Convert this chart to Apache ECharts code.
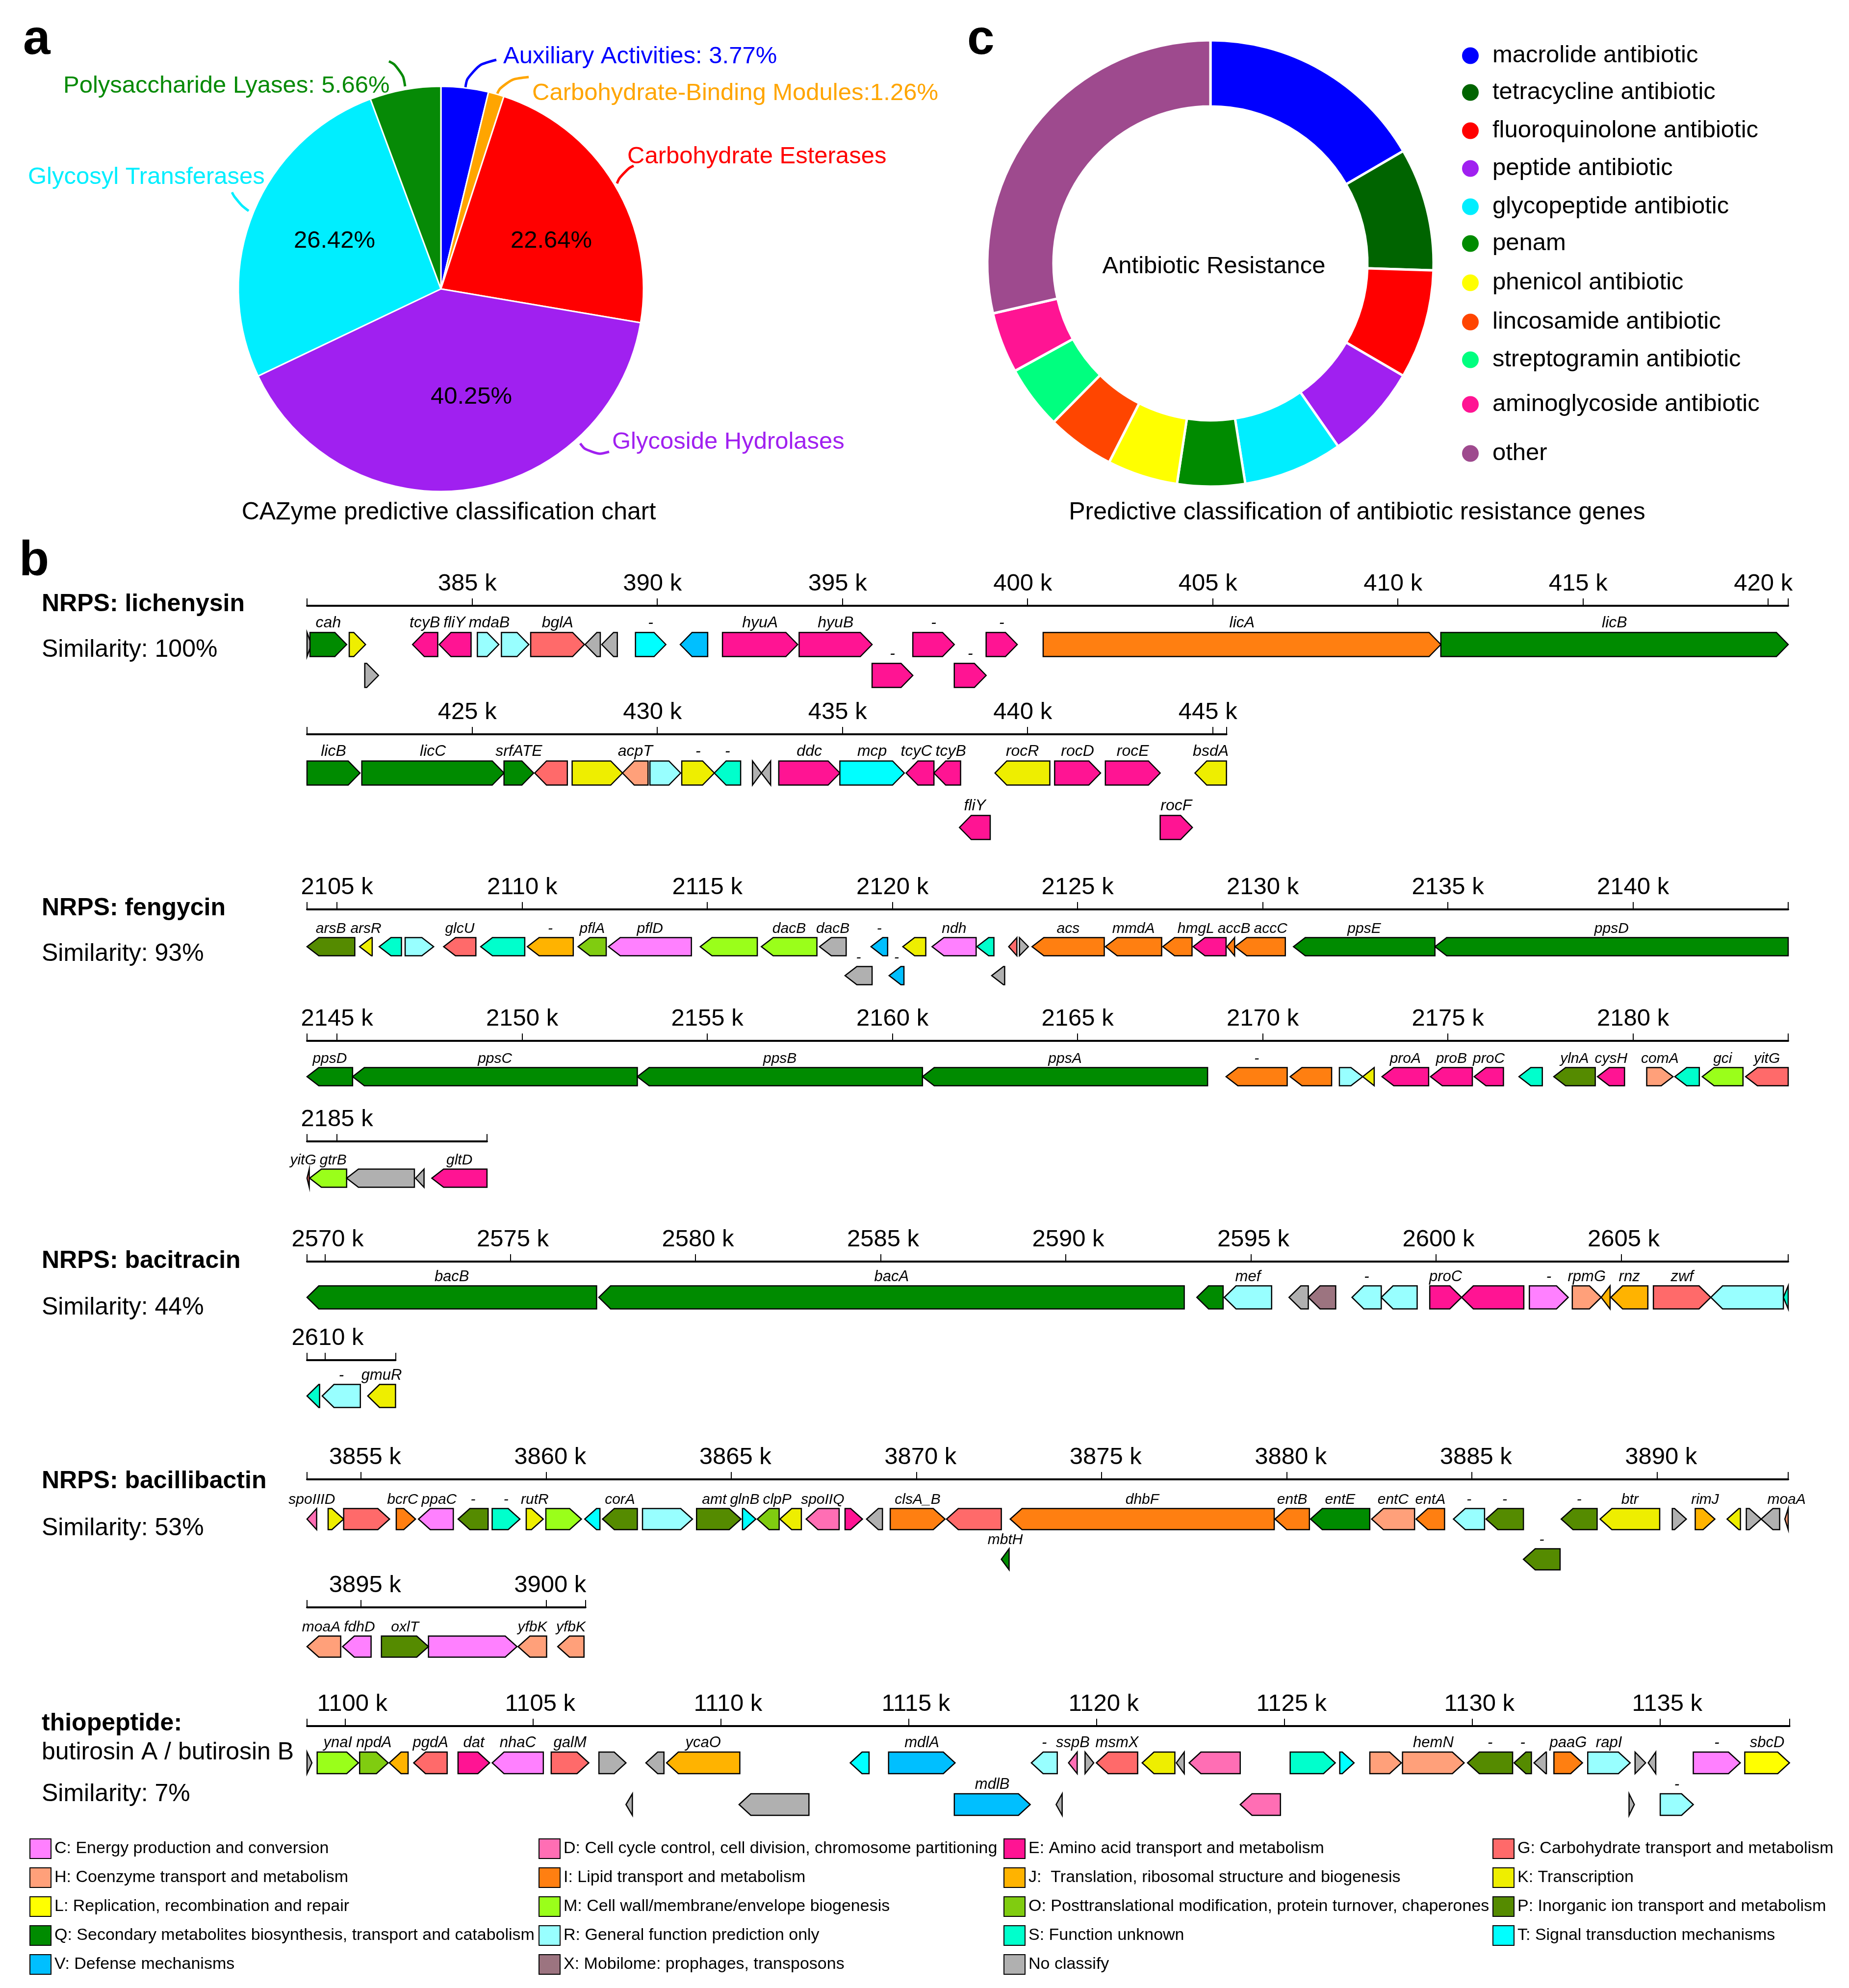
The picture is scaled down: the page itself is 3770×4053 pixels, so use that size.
<!DOCTYPE html>
<html><head><meta charset="utf-8">
<script src="https://cdn.jsdelivr.net/npm/echarts@6/dist/echarts.min.js"></script>
<style>html,body{margin:0;padding:0;background:#fff}#c{width:3770px;height:4053px}</style>
</head><body><div id="c"></div>
<script>
const FONT = '"Liberation Sans", Arial, sans-serif';

// ---------- Panel a : CAZyme ----------
const cazyNames = ['Auxiliary Activities','Carbohydrate-Binding Modules','Carbohydrate Esterases','Glycoside Hydrolases','Glycosyl Transferases','Polysaccharide Lyases'];
const cazyCounts = [6, 2, 36, 64, 42, 9];
const cazyColors = ['#0000FF','#FFA500','#FF0000','#A020F0','#00EEFF','#068A06'];
const cazyShowPctInside = [false, false, true, true, true, false];
const cazyLabelSep = [': ', ':', null, null, null, ': '];

// ---------- Panel c : antibiotic resistance ----------
const argNames = ['macrolide antibiotic','tetracycline antibiotic','fluoroquinolone antibiotic','peptide antibiotic','glycopeptide antibiotic','penam','phenicol antibiotic','lincosamide antibiotic','streptogramin antibiotic','aminoglycoside antibiotic','other'];
const argValues = [16.6, 8.9, 7.9, 6.9, 7.2, 4.9, 5.1, 4.9, 4.6, 4.4, 28.6];
const argColors = ['#0000FF','#006400','#FF0000','#A020F0','#00EEFF','#008B00','#FFFF00','#FF4500','#00FF7F','#FF1493','#9E4A8E'];

// ---------- COG categories ----------
const cogKeys = ['C','D','E','G','H','I','J','K','L','M','O','P','Q','R','S','T','V','X','N'];
const cogLabels = {
  C:'C: Energy production and conversion', D:'D: Cell cycle control, cell division, chromosome partitioning',
  E:'E: Amino acid transport and metabolism', G:'G: Carbohydrate transport and metabolism',
  H:'H: Coenzyme transport and metabolism', I:'I: Lipid transport and metabolism',
  J:'J:  Translation, ribosomal structure and biogenesis', K:'K: Transcription',
  L:'L: Replication, recombination and repair', M:'M: Cell wall/membrane/envelope biogenesis',
  O:'O: Posttranslational modification, protein turnover, chaperones', P:'P: Inorganic ion transport and metabolism',
  Q:'Q: Secondary metabolites biosynthesis, transport and catabolism', R:'R: General function prediction only',
  S:'S: Function unknown', T:'T: Signal transduction mechanisms', V:'V: Defense mechanisms',
  X:'X: Mobilome: prophages, transposons', N:'No classify'
};
const cogColors = {C:'#FF80FF',D:'#FF6EB4',E:'#FF1493',G:'#FF6A6A',H:'#FFA07A',I:'#FF7F11',J:'#FFB300',K:'#EEEE00',L:'#FFFF00',M:'#9AFF1A',O:'#80CC10',P:'#558B00',Q:'#008B00',R:'#98FFFF',S:'#00FFCC',T:'#00FFFF',V:'#00BFFF',X:'#9C7480',N:'#B0B0B0'};
const cogLegendColumns = [['C','H','L','Q','V'],['D','I','M','R','X'],['E','J','O','S','N'],['G','K','P','T']];

// ---------- Gene clusters: [start kb, end kb, strand, track, COG, label] ----------
const lichenysinRows = [[380.54, 420.54],[420.54, 445.37]];
const lichenysinGenes = [
 [380.54,380.66,1,0,'N',''],[380.62,381.61,1,0,'Q','cah'],[381.68,382.12,1,0,'K',''],[382.10,382.47,1,1,'N',''],
 [383.39,384.07,-1,0,'E','tcyB'],[384.11,384.97,-1,0,'E','fliY'],[385.14,385.72,1,0,'R','mdaB'],[385.79,386.53,1,0,'R',''],
 [386.58,388.03,1,0,'G','bglA'],[388.05,388.46,-1,0,'N',''],[388.50,388.92,-1,0,'N',''],[389.41,390.23,1,0,'T','-'],
 [390.62,391.36,-1,0,'V',''],[391.76,393.79,1,0,'E','hyuA'],[393.83,395.80,1,0,'E','hyuB'],[395.80,396.90,1,1,'E','-'],
 [396.90,398.02,1,0,'E','-'],[398.02,398.88,1,1,'E','-'],[398.88,399.72,1,0,'E','-'],[400.42,411.16,1,0,'I','licA'],
 [411.16,421.97,1,0,'Q','licB'],[422.02,425.86,1,0,'Q','licC'],[425.86,426.66,1,0,'Q','srfATE'],[426.69,427.57,-1,0,'G',''],
 [427.70,429.06,1,0,'K',''],[429.06,429.75,-1,0,'H','acpT'],[429.80,430.63,1,0,'R',''],[430.66,431.54,1,0,'K','-'],
 [431.54,432.25,-1,0,'S','-'],[432.57,432.81,1,0,'N',''],[432.81,433.06,-1,0,'N',''],[433.28,434.93,1,0,'E','ddc'],
 [434.93,436.67,1,0,'T','mcp'],[436.72,437.47,-1,0,'E','tcyC'],[437.47,438.19,-1,0,'E','tcyB'],[438.16,438.99,-1,1,'E','fliY'],
 [439.12,440.60,-1,0,'K','rocR'],[440.73,441.97,1,0,'E','rocD'],[442.10,443.58,1,0,'E','rocE'],[443.58,444.45,1,1,'E','rocF'],
 [444.52,445.37,-1,0,'K','bsdA']
];
const fengycinRows = [[2104.19, 2144.19],[2144.19, 2184.19],[2184.19, 2189.05]];
const fengycinGenes = [
 [2104.19,2105.48,-1,0,'P','arsB'],[2105.61,2105.95,-1,0,'K','arsR'],[2106.14,2106.74,-1,0,'S',''],[2106.84,2107.61,1,0,'R',''],
 [2107.88,2108.75,-1,0,'G','glcU'],[2108.88,2110.07,-1,0,'S',''],[2110.14,2111.38,-1,0,'J','-'],[2111.51,2112.27,-1,0,'O','pflA'],
 [2112.33,2114.57,-1,0,'C','pflD'],[2114.81,2116.35,-1,0,'M',''],[2116.46,2117.96,-1,0,'M','dacB'],[2118.03,2118.75,-1,0,'N','dacB'],
 [2118.72,2119.45,-1,1,'N','-'],[2119.42,2119.87,-1,0,'V','-'],[2119.91,2120.31,-1,1,'V','-'],[2120.28,2120.90,-1,0,'K',''],
 [2121.07,2122.26,-1,0,'C','ndh'],[2122.28,2122.74,-1,0,'S',''],[2122.68,2123.03,-1,1,'N',''],[2123.14,2123.36,-1,0,'G',''],
 [2123.43,2123.67,1,0,'N',''],[2123.77,2125.72,-1,0,'I','acs'],[2125.75,2127.27,-1,0,'I','mmdA'],[2127.30,2128.09,-1,0,'I',''],
 [2128.12,2129.01,-1,0,'E','hmgL'],[2129.03,2129.24,-1,0,'I','accB'],[2129.25,2130.61,-1,0,'I','accC'],[2130.83,2134.65,-1,0,'Q','ppsE'],
 [2134.65,2145.42,-1,0,'Q','ppsD'],[2145.42,2153.11,-1,0,'Q','ppsC'],[2153.11,2160.81,-1,0,'Q','ppsB'],[2160.81,2168.51,-1,0,'Q','ppsA'],
 [2169.01,2170.66,-1,0,'I','-'],[2170.74,2171.86,-1,0,'I',''],[2172.07,2172.70,1,0,'R',''],[2172.70,2173.01,-1,0,'K',''],
 [2173.22,2174.48,-1,0,'E','proA'],[2174.53,2175.66,-1,0,'E','proB'],[2175.71,2176.50,-1,0,'E','proC'],[2176.92,2177.55,-1,0,'S',''],
 [2177.86,2178.98,-1,0,'P','ylnA'],[2179.04,2179.77,-1,0,'E','cysH'],[2180.37,2181.08,1,0,'H','comA'],[2181.13,2181.79,-1,0,'S',''],
 [2181.87,2182.97,-1,0,'M','gci'],[2183.04,2184.25,-1,0,'G','yitG'],[2184.26,2185.26,-1,0,'M','gtrB'],[2185.26,2187.09,-1,0,'N',''],
 [2187.12,2187.35,-1,0,'N',''],[2187.56,2189.05,-1,0,'E','gltD']
];
const bacitracinRows = [[2569.51, 2609.51],[2609.51, 2611.90]];
const bacitracinGenes = [
 [2569.51,2577.33,-1,0,'Q','bacB'],[2577.39,2593.20,-1,0,'Q','bacA'],[2593.54,2594.25,-1,0,'Q',''],[2594.28,2595.56,-1,0,'R','mef'],
 [2596.03,2596.55,-1,0,'N',''],[2596.55,2597.29,-1,0,'X',''],[2597.73,2598.52,-1,0,'R','-'],[2598.52,2599.49,-1,0,'R',''],
 [2599.83,2600.69,1,0,'E','proC'],[2600.69,2602.37,-1,0,'E',''],[2602.52,2603.57,1,0,'C','-'],[2603.68,2604.46,1,0,'H','rpmG'],
 [2604.46,2604.70,-1,0,'J',''],[2604.72,2605.72,-1,0,'J','rnz'],[2605.87,2607.42,1,0,'G','zwf'],[2607.42,2609.38,-1,0,'R',''],
 [2609.38,2609.85,-1,0,'S',''],[2609.92,2610.95,-1,0,'R','-'],[2611.15,2611.90,-1,0,'K','gmuR']
];
const bacillibactinRows = [[3853.54, 3893.54],[3893.54, 3901.06]];
const bacillibactinGenes = [
 [3853.50,3853.80,-1,0,'D','spoIIID'],[3854.11,3854.53,1,0,'K',''],[3854.53,3855.77,1,0,'G',''],[3855.95,3856.47,1,0,'I','bcrC'],
 [3856.55,3857.49,-1,0,'C','ppaC'],[3857.62,3858.43,-1,0,'P','-'],[3858.54,3859.29,1,0,'S','-'],[3859.46,3859.92,1,0,'K','rutR'],
 [3859.99,3860.95,1,0,'M',''],[3861.04,3861.45,-1,0,'T',''],[3861.52,3862.46,-1,0,'P','corA'],[3862.60,3863.95,1,0,'R',''],
 [3864.06,3865.26,1,0,'P','amt'],[3865.30,3865.66,1,0,'T','glnB'],[3865.70,3866.29,-1,0,'O','clpP'],[3866.31,3866.89,-1,0,'K',''],
 [3867.02,3867.91,-1,0,'D','spoIIQ'],[3868.07,3868.54,1,0,'E',''],[3868.65,3869.08,-1,0,'N',''],[3869.29,3870.77,1,0,'I','clsA_B'],
 [3870.81,3872.29,-1,0,'G',''],[3872.29,3872.50,-1,1,'Q','mbtH'],[3872.53,3879.66,-1,0,'I','dhbF'],[3879.68,3880.61,-1,0,'I','entB'],
 [3880.64,3882.24,-1,0,'Q','entE'],[3882.29,3883.45,-1,0,'H','entC'],[3883.49,3884.26,-1,0,'I','entA'],[3884.50,3885.34,-1,0,'R','-'],
 [3885.38,3886.39,-1,0,'P','-'],[3886.39,3887.38,-1,1,'P','-'],[3887.41,3888.38,-1,0,'P','-'],[3888.46,3890.07,-1,0,'K','btr'],
 [3890.41,3890.79,1,0,'N',''],[3891.03,3891.56,1,0,'J','rimJ'],[3891.89,3892.25,-1,0,'K',''],[3892.41,3892.81,1,0,'N',''],
 [3892.81,3893.31,-1,0,'N',''],[3893.45,3894.45,-1,0,'H','moaA'],[3894.50,3895.27,-1,0,'C','fdhD'],[3895.55,3896.82,1,0,'P','oxlT'],
 [3896.82,3899.21,1,0,'C',''],[3899.24,3900.01,-1,0,'H','yfbK'],[3900.31,3901.02,-1,0,'H','yfbK']
];
const thiopeptideRows = [[1098.99, 1138.45]];
const thiopeptideGenes = [
 [1098.99,1099.12,1,0,'N',''],[1099.26,1100.36,1,0,'M','ynaI'],[1100.39,1101.15,1,0,'O','npdA'],[1101.18,1101.68,-1,0,'J',''],
 [1101.83,1102.72,-1,0,'G','pgdA'],[1103.01,1103.85,1,0,'E','dat'],[1103.92,1105.28,-1,0,'C','nhaC'],[1105.49,1106.49,1,0,'G','galM'],
 [1106.76,1107.48,1,0,'N',''],[1107.48,1107.65,-1,1,'N',''],[1108.01,1108.49,-1,0,'N',''],[1108.56,1110.51,-1,0,'J','ycaO'],
 [1110.49,1112.35,-1,1,'N',''],[1113.45,1113.95,-1,0,'T',''],[1114.47,1116.24,1,0,'V','mdlA'],[1116.22,1118.24,1,1,'V','mdlB'],
 [1118.27,1118.96,-1,0,'R','-'],[1118.93,1119.09,-1,1,'N',''],[1119.26,1119.49,-1,0,'D','sspB'],[1119.70,1119.93,1,0,'N',''],
 [1120.00,1121.10,-1,0,'G','msmX'],[1121.22,1122.09,-1,0,'K',''],[1122.13,1122.34,-1,0,'N',''],[1122.47,1123.83,-1,0,'D',''],
 [1123.83,1124.90,-1,1,'D',''],[1125.16,1126.36,1,0,'S',''],[1126.48,1126.86,1,0,'T',''],[1127.28,1128.12,1,0,'H',''],
 [1128.15,1129.79,1,0,'H','hemN'],[1129.88,1131.08,-1,0,'P','-'],[1131.12,1131.58,-1,0,'P','-'],[1131.65,1131.98,-1,0,'N',''],
 [1132.18,1132.94,1,0,'I','paaG'],[1133.08,1134.21,1,0,'R','rapI'],[1134.18,1134.32,1,1,'N',''],[1134.34,1134.62,1,0,'N',''],
 [1134.69,1134.89,-1,0,'N',''],[1135.01,1135.89,1,1,'R','-'],[1135.89,1137.14,1,0,'C','-'],[1137.26,1138.45,1,0,'L','sbcD']
];
const clusterTitles = [['NRPS: lichenysin'],['NRPS: fengycin'],['NRPS: bacitracin'],['NRPS: bacillibactin'],['thiopeptide:','butirosin A / butirosin B']];
const clusterSimilarity = ['Similarity: 100%','Similarity: 93%','Similarity: 44%','Similarity: 53%','Similarity: 7%'];

// ---------- layout (pixels) ----------
const clusterData = [
 {genes: lichenysinGenes, rows: lichenysinRows},
 {genes: fengycinGenes, rows: fengycinRows},
 {genes: bacitracinGenes, rows: bacitracinRows},
 {genes: bacillibactinGenes, rows: bacillibactinRows},
 {genes: thiopeptideGenes, rows: thiopeptideRows}
];
const clusterLayout = [
 {arrowH:49, labelSize:32, pxPerKb:75.5, tickShift:-10, rows:[{axisY:1235,lanes:[79,142]},{axisY:1497,lanes:[79,190]}],
  text:[{y:1230,bold:true},{y:1323}]},
 {arrowH:37, labelSize:30, pxPerKb:75.5, tickShift:0, rows:[{axisY:1854,lanes:[76,135]},{axisY:2122,lanes:[73,135]},{axisY:2327,lanes:[75,135]}],
  text:[{y:1850,bold:true},{y:1943}]},
 {arrowH:47, labelSize:31, pxPerKb:75.5, tickShift:5, rows:[{axisY:2572,lanes:[73,140]},{axisY:2773,lanes:[73,140]}],
  text:[{y:2569,bold:true},{y:2664}]},
 {arrowH:43, labelSize:30, pxPerKb:75.5, tickShift:8, rows:[{axisY:3016,lanes:[81,163]},{axisY:3277,lanes:[80,163]}],
  text:[{y:3018,bold:true},{y:3114}]},
 {arrowH:44, labelSize:31, pxPerKb:76.6, tickShift:15, rows:[{axisY:3519,lanes:[75,160]}],
  text:[{y:3512,bold:true},{y:3571},{y:3656}]}
];
const TRACK_LEFT = 626, HEAD = 24, LABEL_GAP = 7;

const measureCtx = document.createElement('canvas').getContext('2d');
function textWidth(t, size) { measureCtx.font = 'italic ' + size + 'px "Liberation Sans", Arial, sans-serif'; return measureCtx.measureText(t).width; }

// spread overlapping gene labels apart (positions in kb)
function spreadLabels(items, pxPerKb) {
  items.sort((a, b) => a.c - b.c);
  for (let it = 0; it < 300; it++) {
    let moved = false;
    for (let i = 1; i < items.length; i++) {
      const a = items[i - 1], b = items[i];
      const ov = (a.x + a.w / 2 + LABEL_GAP / pxPerKb) - (b.x - b.w / 2);
      if (ov > 1e-6) { a.x -= ov / 2; b.x += ov / 2; moved = true; }
    }
    if (!moved) break;
  }
}

const grids = [], xAxes = [], yAxes = [], series = [];
const usedCogs = {};

function makeRender(genes, L, R, color) {
  return function (params, api) {
    const s = api.value(0), e = api.value(1), strand = api.value(2), track = api.value(3), idx = api.value(4), lx = api.value(5);
    const p1 = api.coord([s, R.lanes[track]]);
    const p2 = api.coord([e, R.lanes[track]]);
    const x1 = p1[0], x2 = p2[0], yc = p1[1], h = L.arrowH / 2;
    const head = Math.min(HEAD, x2 - x1);
    const pts = strand > 0
      ? [[x1, yc - h], [x2 - head, yc - h], [x2, yc], [x2 - head, yc + h], [x1, yc + h]]
      : [[x2, yc - h], [x1 + head, yc - h], [x1, yc], [x1 + head, yc + h], [x2, yc + h]];
    const children = [{type: 'polygon', shape: {points: pts}, style: {fill: color, stroke: '#000', lineWidth: 2.5, lineJoin: 'miter'}}];
    const name = genes[idx][5];
    if (name) children.push({type: 'text', x: api.coord([lx, 0])[0], y: yc - h - 3,
      style: {text: name, fill: '#000', fontSize: L.labelSize, fontStyle: 'italic', fontFamily: FONT, align: 'center', verticalAlign: 'bottom'}});
    return {type: 'group', children};
  };
}

let gi = 0;
clusterData.forEach((cl, ci) => {
  const L = clusterLayout[ci];
  cl.rows.forEach((rg, ri) => {
    const R = L.rows[ri];
    const mn = rg[0], mx = rg[1];
    grids.push({left: TRACK_LEFT, top: R.axisY, width: (mx - mn) * L.pxPerKb, height: 250, containLabel: false, outerBoundsMode: 'none'});
    const labelVals = [];
    for (let v = Math.ceil(mn / 5) * 5; v <= mx + 1e-9; v += 5) labelVals.push(v);
    const tickVals = [mn].concat(labelVals.filter(v => v > mn && v < mx), [mx]);
    const sh = L.tickShift;
    xAxes.push({gridIndex: gi, type: 'value', min: mn, max: mx, position: 'top', splitLine: {show: false},
      axisLine: {show: true, onZero: false, lineStyle: {color: '#000', width: 4}},
      axisTick: {show: true, customValues: tickVals, length: 15, inside: false, lineStyle: {color: '#000', width: 2}},
      axisLabel: {show: true, customValues: labelVals, formatter: v => Math.round(v) + ' k', fontSize: 49, color: '#000', margin: 20, fontFamily: FONT,
        padding: sh < 0 ? [0, -2 * sh, 0, 0] : [0, 0, 0, 2 * sh]}});
    yAxes.push({gridIndex: gi, type: 'value', min: 0, max: 250, inverse: true, show: false});
    // clipped genes of this row
    const rowGenes = [];
    cl.genes.forEach((g, idx) => {
      if (g[1] <= mn || g[0] >= mx) return;
      const s = Math.max(g[0], mn), e = Math.min(g[1], mx);
      rowGenes.push({s, e, g, idx, c: (s + e) / 2, x: (s + e) / 2, w: g[5] ? textWidth(g[5], L.labelSize) / L.pxPerKb : 0});
    });
    [0, 1].forEach(t => spreadLabels(rowGenes.filter(r => r.g[3] === t && r.g[5]), L.pxPerKb));
    const byCog = {};
    rowGenes.forEach(r => {
      (byCog[r.g[4]] = byCog[r.g[4]] || []).push([r.s, r.e, r.g[2], r.g[3], r.idx, r.x]);
    });
    Object.keys(byCog).forEach(k => {
      usedCogs[k] = true;
      series.push({type: 'custom', name: cogLabels[k], xAxisIndex: gi, yAxisIndex: gi, clip: false, silent: true,
        itemStyle: {color: cogColors[k]}, encode: {x: [0, 1]}, renderItem: makeRender(cl.genes, L, R, cogColors[k]), data: byCog[k]});
    });
    gi++;
  });
});
cogKeys.forEach(k => {
  if (!usedCogs[k]) series.push({type: 'custom', name: cogLabels[k], xAxisIndex: 0, yAxisIndex: 0, itemStyle: {color: cogColors[k]},
    renderItem: () => ({type: 'group', children: []}), data: []});
});

// ---------- pie a ----------
const PIE_A = {center: [899, 589], r: 413};
const cazyInnerPos = [null, null, [1124, 491], [961, 809], [682, 491], null];
const cazyOuterPos = [[1026, 115], [1085, 190], [1279, 319], [1248, 901], [57, 361], [129, 175]];
const cazyHooks = [
  [[949, 178], [955, 137], [1012, 122]],
  [[1013, 193], [1026, 163], [1078, 157]],
  [[1258, 374], [1268, 349], [1292, 338]],
  [[1183, 904], [1203, 932], [1242, 921]],
  [[507, 430], [483, 412], [473, 392]],
  [[826, 176], [820, 138], [793, 125]]
];
series.push({type: 'pie', center: PIE_A.center, radius: [0, PIE_A.r], startAngle: 90, clockwise: true, silent: true,
  itemStyle: {borderColor: '#fff', borderWidth: 3},
  label: {show: true, position: 'inside', formatter: p => p.percent.toFixed(2) + '%', fontSize: 49, color: '#000', fontFamily: FONT},
  labelLine: {show: false},
  labelLayout: p => cazyInnerPos[p.dataIndex] ? {x: cazyInnerPos[p.dataIndex][0], y: cazyInnerPos[p.dataIndex][1], align: 'center', verticalAlign: 'middle'} : {},
  data: cazyNames.map((n, i) => ({name: n, value: cazyCounts[i], itemStyle: {color: cazyColors[i]}, label: {show: cazyShowPctInside[i]}}))
});
series.push({type: 'pie', center: PIE_A.center, radius: [0, PIE_A.r], startAngle: 90, clockwise: true, silent: true,
  itemStyle: {color: 'rgba(0,0,0,0)', borderWidth: 0},
  label: {show: true, position: 'outside', fontSize: 49, fontFamily: FONT, overflow: 'none', width: 1200, edgeDistance: 0,
    formatter: p => cazyLabelSep[p.dataIndex] === null ? p.name : p.name + cazyLabelSep[p.dataIndex] + p.percent.toFixed(2) + '%'},
  labelLine: {show: true, smooth: 0.6},
  labelLayout: p => ({x: cazyOuterPos[p.dataIndex][0], y: cazyOuterPos[p.dataIndex][1], align: 'left', verticalAlign: 'middle', labelLinePoints: cazyHooks[p.dataIndex]}),
  data: cazyNames.map((n, i) => ({name: n, value: cazyCounts[i], label: {color: cazyColors[i]}, labelLine: {lineStyle: {color: cazyColors[i], width: 5}}}))
});

// ---------- donut c ----------
series.push({type: 'pie', center: [2468, 537], radius: [320, 455], startAngle: 90, clockwise: true, silent: true,
  itemStyle: {borderColor: '#fff', borderWidth: 5}, label: {show: false}, labelLine: {show: false},
  data: argNames.map((n, i) => ({name: n, value: argValues[i], itemStyle: {color: argColors[i]}}))
});

// ---------- legends ----------
const legends = [];
const argLegendY = [111, 186, 264, 341, 419, 494, 574, 654, 731, 822, 922];
argNames.forEach((n, i) => legends.push({data: [n], left: 2979, top: argLegendY[i] - 22, orient: 'vertical', padding: 0,
  icon: 'circle', itemWidth: 36, itemHeight: 36, selectedMode: false,
  textStyle: {fontSize: 49, color: '#000', fontFamily: FONT, padding: [0, 0, 0, 22]}}));
const cogColX = [60, 1098, 2046, 3043];
cogLegendColumns.forEach((col, i) => legends.push({data: col.map(k => cogLabels[k]), left: cogColX[i], top: 3748, orient: 'vertical',
  padding: 0, itemGap: 17, icon: 'rect', itemWidth: 43, itemHeight: 40, selectedMode: false,
  itemStyle: {borderColor: '#000', borderWidth: 2},
  textStyle: {fontSize: 34, color: '#000', fontFamily: FONT, padding: [0, 0, 0, 2]}}));

// ---------- texts ----------
const graphics = [];
function txt(x, y, text, size, opts) {
  graphics.push({type: 'text', x, y, silent: true, style: Object.assign({text, fontSize: size, fontFamily: FONT, fill: '#000', align: 'left', verticalAlign: 'middle'}, opts || {})});
}
txt(47, 82, 'a', 100, {fontWeight: 'bold'});
txt(1972, 82, 'c', 100, {fontWeight: 'bold'});
txt(39, 1145, 'b', 100, {fontWeight: 'bold'});
txt(915, 1045, 'CAZyme predictive classification chart', 50, {align: 'center'});
txt(2767, 1045, 'Predictive classification of antibiotic resistance genes', 50, {align: 'center'});
txt(2475, 543, 'Antibiotic Resistance', 49, {align: 'center'});
clusterLayout.forEach((L, ci) => {
  const lines = clusterTitles[ci].concat([clusterSimilarity[ci]]);
  lines.forEach((t, j) => txt(85, L.text[j].y + 2, t, 50, L.text[j].bold ? {fontWeight: 'bold'} : {}));
});

const chart = echarts.init(document.getElementById('c'), null, {renderer: 'canvas', width: 3770, height: 4053});
chart.setOption({
  animation: false, backgroundColor: '#fff',
  grid: grids, xAxis: xAxes, yAxis: yAxes, series, legend: legends, graphic: graphics
});
</script></body></html>
